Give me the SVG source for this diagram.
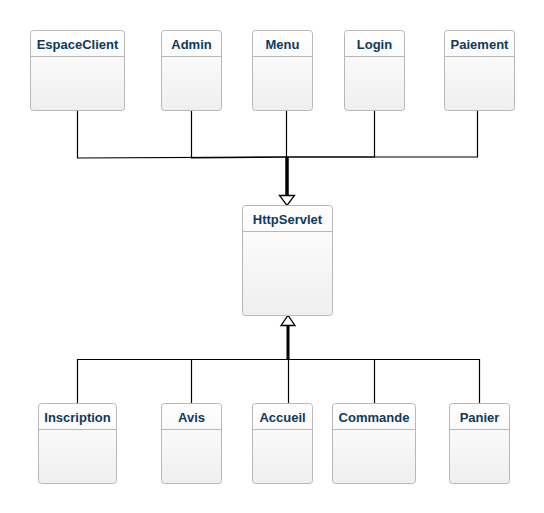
<svg xmlns="http://www.w3.org/2000/svg" width="544" height="513" viewBox="0 0 544 513">
<defs>
<linearGradient id="g" x1="0" y1="0" x2="0" y2="1">
<stop offset="0" stop-color="#ffffff"/>
<stop offset="1" stop-color="#efefef"/>
</linearGradient>
</defs>
<style>
.box{fill:url(#g);stroke:#b8b8b8;stroke-width:1}
.div{stroke:#b8b8b8;stroke-width:1}
.t{font-family:"Liberation Sans",Arial,sans-serif;font-weight:bold;font-size:13px;fill:#0e3a5c;text-anchor:middle}
.c{fill:none;stroke:#000;stroke-width:1.2}
.arr{fill:#fff;stroke:#000;stroke-width:1.3}
</style>
<rect width="544" height="513" fill="#fff"/>
<g id="connectors">
<polyline class="c" points="77.5,110 77.5,158 287,157"/>
<polyline class="c" points="191.5,110 191.5,158 287,157"/>
<polyline class="c" points="286.5,110 286.5,157"/>
<polyline class="c" points="374.5,110 374.5,157 287,157"/>
<polyline class="c" points="477.5,110 477.5,157 287,157"/>
<line x1="287" y1="157" x2="287" y2="196" stroke="#000" stroke-width="3.5"/>
<polygon class="arr" points="279.5,195.5 294.5,195.5 287,205.5"/>
<polyline class="c" points="77.5,403 77.5,359.5 288,359.5"/>
<polyline class="c" points="191.5,403 191.5,359.5"/>
<polyline class="c" points="288.5,403 288.5,359.5"/>
<polyline class="c" points="374.5,403 374.5,359.5 288,359.5"/>
<polyline class="c" points="479.5,403 479.5,359.5 288,359.5"/>
<line x1="288" y1="359.5" x2="288" y2="325" stroke="#000" stroke-width="3"/>
<polygon class="arr" points="281,325.5 295,325.5 288,315.5"/>
</g>
<g id="EspaceClient"><rect class="box" x="30.5" y="30.5" width="94" height="80" rx="3"/><line class="div" x1="30.5" y1="56.5" x2="124.5" y2="56.5"/><text class="t" x="77.5" y="49">EspaceClient</text></g>
<g id="Admin"><rect class="box" x="161.5" y="30.5" width="60" height="80" rx="3"/><line class="div" x1="161.5" y1="56.5" x2="221.5" y2="56.5"/><text class="t" x="191.5" y="49">Admin</text></g>
<g id="Menu"><rect class="box" x="252.5" y="30.5" width="60" height="80" rx="3"/><line class="div" x1="252.5" y1="56.5" x2="312.5" y2="56.5"/><text class="t" x="282.5" y="49">Menu</text></g>
<g id="Login"><rect class="box" x="344.5" y="30.5" width="60" height="80" rx="3"/><line class="div" x1="344.5" y1="56.5" x2="404.5" y2="56.5"/><text class="t" x="374.5" y="49">Login</text></g>
<g id="Paiement"><rect class="box" x="444.5" y="30.5" width="70" height="80" rx="3"/><line class="div" x1="444.5" y1="56.5" x2="514.5" y2="56.5"/><text class="t" x="479.5" y="49">Paiement</text></g>
<g id="HttpServlet"><rect class="box" x="242.5" y="205.5" width="90" height="110" rx="3"/><line class="div" x1="242.5" y1="231.5" x2="332.5" y2="231.5"/><text class="t" x="287.5" y="224">HttpServlet</text></g>
<g id="Inscription"><rect class="box" x="38.5" y="403.5" width="78" height="80" rx="3"/><line class="div" x1="38.5" y1="429.5" x2="116.5" y2="429.5"/><text class="t" x="77.5" y="422">Inscription</text></g>
<g id="Avis"><rect class="box" x="161.5" y="403.5" width="60" height="80" rx="3"/><line class="div" x1="161.5" y1="429.5" x2="221.5" y2="429.5"/><text class="t" x="191.5" y="422">Avis</text></g>
<g id="Accueil"><rect class="box" x="252.5" y="403.5" width="60" height="80" rx="3"/><line class="div" x1="252.5" y1="429.5" x2="312.5" y2="429.5"/><text class="t" x="282.5" y="422">Accueil</text></g>
<g id="Commande"><rect class="box" x="332.5" y="403.5" width="83" height="80" rx="3"/><line class="div" x1="332.5" y1="429.5" x2="415.5" y2="429.5"/><text class="t" x="374" y="422">Commande</text></g>
<g id="Panier"><rect class="box" x="449.5" y="403.5" width="60" height="80" rx="3"/><line class="div" x1="449.5" y1="429.5" x2="509.5" y2="429.5"/><text class="t" x="479.5" y="422">Panier</text></g>
</svg>
